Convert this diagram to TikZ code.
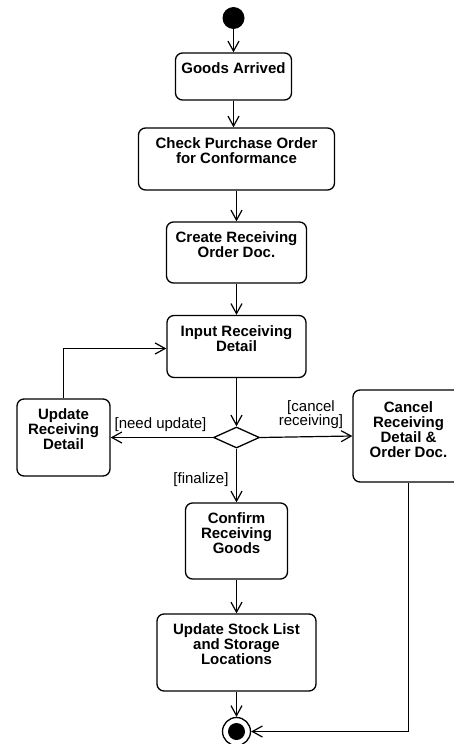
\documentclass[tikz,border=0pt]{standalone}
\usepackage{fontspec}
\setmainfont{Liberation Sans}
\usetikzlibrary{arrows.meta,shapes.geometric}

\tikzset{
  x=1pt, y=-1pt,
  act/.style={draw, line width=1.3pt, rounded corners=7pt, inner sep=0pt},
  acttext/.style={anchor=north, inner sep=0pt, align=center,
    font=\fontsize{15}{15}\selectfont\bfseries},
  guard/.style={inner sep=0pt, align=center,
    font=\fontsize{15}{14.3}\selectfont},
  flow/.style={line width=1.2pt,
    -{Straight Barb[length=10pt,width=11pt,line width=1.2pt]}},
  startnode/.style={circle, fill=black, inner sep=0pt, minimum size=22pt},
  endring/.style={circle, draw, line width=1.3pt, fill=white, inner sep=0pt, minimum size=28pt},
  enddot/.style={circle, fill=black, inner sep=0pt, minimum size=17pt},
  decision/.style={diamond, draw, line width=1.3pt, inner sep=0pt,
    minimum width=46pt, minimum height=21pt, aspect=2.2},
}

\begin{document}
\begin{tikzpicture}
\useasboundingbox (0,0) rectangle (454,744);

% initial node
\node[startnode] (start) at (233.5,18) {};

% action boxes
\node[act, minimum width=116pt, minimum height=47pt] (goods) at (233.5,76.5) {};
\node[acttext] (goodsT) at ([yshift=-10.5pt]goods.north) {Goods Arrived};

\node[act, minimum width=196pt, minimum height=62pt] (check) at (236.5,159) {};
\node[acttext] (checkT) at ([yshift=-10.5pt]check.north) {Check Purchase Order\\for Conformance};

\node[act, minimum width=140pt, minimum height=61pt] (create) at (236.5,252.5) {};
\node[acttext] (createT) at ([yshift=-10.5pt]create.north) {Create Receiving\\Order Doc.};

\node[act, minimum width=139pt, minimum height=62pt] (input) at (236.5,346.5) {};
\node[acttext] (inputT) at ([yshift=-10.5pt]input.north) {Input Receiving\\Detail};

\node[decision] (dec) at (236.5,437.5) {};

\node[act, minimum width=93pt, minimum height=77pt] (update) at (63.5,437.5) {};
\node[acttext] (updateT) at ([yshift=-10.5pt]update.north) {Update\\Receiving\\Detail};

\node[act, minimum width=111pt, minimum height=92pt] (cancel) at (408.5,436) {};
\node[acttext] (cancelT) at ([yshift=-12pt]cancel.north) {Cancel\\Receiving\\Detail \&\\Order Doc.};

\node[act, minimum width=102pt, minimum height=76pt] (confirm) at (236.5,541) {};
\node[acttext] (confirmT) at ([yshift=-10.5pt]confirm.north) {Confirm\\Receiving\\Goods};

\node[act, minimum width=159pt, minimum height=77pt] (stock) at (236.5,652.5) {};
\node[acttext] (stockT) at ([yshift=-10.5pt]stock.north) {Update Stock List\\and Storage\\Locations};

% final node
\node[endring] (final) at (236.5,731.5) {};
\node[enddot] (finaldot) at (final) {};

% control flows
\draw[flow] (start) -- (start |- goods.north);
\draw[flow] (goods.south) -- (goods.south |- check.north);
\draw[flow] (check.south) -- (create.north);
\draw[flow] (create.south) -- (input.north);
\draw[flow] (input.south) -- (dec.north);
\draw[flow] (dec.west) -- (update.east);
\draw[flow] (dec.east) -- (cancel.west);
\draw[flow] (dec.south) -- (confirm.north);
\draw[flow] (update.north) |- ([yshift=-2pt]input.west);
\draw[flow] (confirm.south) -- (stock.north);
\draw[flow] (stock.south) -- (final.north);
\draw[flow] (cancel.south) |- (final.east);

% guards
\node[guard, anchor=base] (gUpd) at (160.5,428) {[need update]};
\node[guard, anchor=south] (gCan) at (311,429) {[cancel\\receiving]};
\node[guard, anchor=base] (gFin) at (201,483.5) {[finalize]};
\end{tikzpicture}
\end{document}
